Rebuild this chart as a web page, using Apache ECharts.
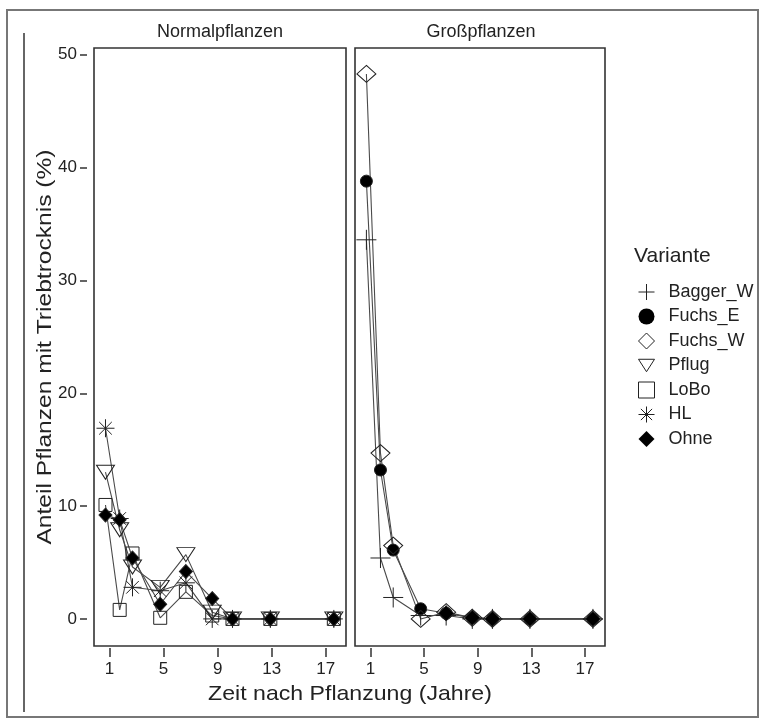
<!DOCTYPE html>
<html>
<head>
<meta charset="utf-8">
<script src="https://cdn.jsdelivr.net/npm/echarts@6/dist/echarts.min.js"></script>
<style>
  html, body { margin: 0; padding: 0; background: #fff; }
  #container { width: 767px; height: 724px; }
</style>
</head>
<body>
<div id="container"></div>
<script>
var myChart = echarts.init(document.getElementById('container'));

// Zeitpunkte (Jahre nach Pflanzung)
var jahre = [0.7, 1.75, 2.7, 4.75, 6.65, 8.6, 10.1, 12.9, 17.6];

// Normalpflanzen
var pflug = [13.0, 7.9, 4.6, 2.8, 5.7, 0.6, 0, 0, 0];
var lobo = [10.1, 0.8, 5.8, 0.1, 2.4, 0.3, 0, 0, 0];
var hl = [16.9, 8.9, 2.8, 2.5, 3.2, 0, 0, 0, 0];
var ohne = [9.2, 8.8, 5.4, 1.3, 4.2, 1.8, 0, 0, 0];

// Großpflanzen
var baggerW = [33.6, 5.4, 1.9, 0.3, 0.3, 0, 0, 0, 0];
var fuchsE = [38.8, 13.2, 6.1, 0.9, 0.5, 0.1, 0, 0, 0];
var fuchsW = [48.3, 14.7, 6.5, 0, 0.6, 0.1, 0, 0, 0];
var ohneGross = [null, null, null, null, 0.5, 0.1, 0, 0, 0];

var xTicks = [1, 5, 9, 13, 17];
var yTicks = [0, 10, 20, 30, 40, 50];

var FONT = '"Liberation Sans", Arial, sans-serif';
var INK = '#222';
var LINE = '#4a4a4a';

var SYM = {
    plus: 'path://M0,10L20,10M10,0L10,20',
    tri: 'path://M0,0L18,0L9,14Z',
    star: 'path://M10,0L10,20M0,10L20,10M3,3L17,17M17,3L3,17'
};

function pairs(ys) {
    var out = [];
    for (var i = 0; i < ys.length; i++) {
        out.push([jahre[i], ys[i]]);
    }
    return out;
}

function mkSeries(name, ys, grid, symbol, size, fill) {
    return {
        name: name,
        type: 'line',
        xAxisIndex: grid,
        yAxisIndex: grid,
        data: pairs(ys),
        symbol: symbol,
        symbolSize: size,
        showAllSymbol: true,
        connectNulls: false,
        animation: false,
        lineStyle: {color: LINE, width: 1.1},
        itemStyle: {color: fill, borderColor: INK, borderWidth: 1},
        emphasis: {disabled: true}
    };
}

var NONE = 'rgba(0,0,0,0)';

var series = [
    mkSeries('Bagger_W', baggerW, 1, SYM.plus, 20, NONE),
    mkSeries('Fuchs_E', fuchsE, 1, 'circle', 12, '#000'),
    mkSeries('Fuchs_W', fuchsW, 1, 'diamond', [19, 17], NONE),
    mkSeries('Ohne', ohneGross, 1, 'diamond', [15, 15], '#000'),
    mkSeries('Pflug', pflug, 0, SYM.tri, [18, 14], NONE),
    mkSeries('LoBo', lobo, 0, 'rect', 13, NONE),
    mkSeries('HL', hl, 0, SYM.star, 18, NONE),
    mkSeries('Ohne', ohne, 0, 'diamond', [13, 14], '#000')
];

var legendData = [
    {name: 'Bagger_W', icon: SYM.plus, itemStyle: {color: NONE, borderColor: INK, borderWidth: 1}},
    {name: 'Fuchs_E', icon: 'circle', itemStyle: {color: '#000', borderColor: '#000', borderWidth: 0}},
    {name: 'Fuchs_W', icon: 'diamond', itemStyle: {color: NONE, borderColor: INK, borderWidth: 1}},
    {name: 'Pflug', icon: SYM.tri, itemStyle: {color: NONE, borderColor: INK, borderWidth: 1}},
    {name: 'LoBo', icon: 'rect', itemStyle: {color: NONE, borderColor: INK, borderWidth: 1}},
    {name: 'HL', icon: SYM.star, itemStyle: {color: NONE, borderColor: INK, borderWidth: 1}},
    {name: 'Ohne', icon: 'diamond', itemStyle: {color: '#000', borderColor: '#000', borderWidth: 0}}
];

function mkX(grid) {
    return {
        type: 'value',
        gridIndex: grid,
        min: -0.15,
        max: 18.5,
        offset: 2,
        splitLine: {show: false},
        axisLine: {show: false, onZero: false},
        axisTick: {show: true, length: 9, customValues: xTicks, lineStyle: {color: '#333', width: 1.5}},
        axisLabel: {customValues: xTicks, margin: 13, fontSize: 17, color: INK, fontFamily: FONT}
    };
}

function mkY(grid) {
    return {
        type: 'value',
        gridIndex: grid,
        min: -2.4,
        max: 50.6,
        offset: 7,
        splitLine: {show: false},
        axisLine: {show: false, onZero: false},
        axisTick: {show: grid === 0, length: 7, customValues: yTicks, lineStyle: {color: '#333', width: 1.5}},
        axisLabel: {show: grid === 0, customValues: yTicks, margin: 10, fontSize: 17, color: INK, fontFamily: FONT}
    };
}

var options = {
    animation: false,
    backgroundColor: '#fff',
    title: {
        text: 'Variante',
        left: 629,
        top: 241,
        textStyle: {fontSize: 21, fontWeight: 'normal', color: INK, fontFamily: FONT}
    },
    legend: {
        orient: 'vertical',
        left: 633,
        top: 278,
        itemWidth: 16,
        itemHeight: 16,
        itemGap: 6.5,
        selectedMode: false,
        data: legendData,
        textStyle: {fontSize: 18, color: INK, fontFamily: FONT, padding: [0, 0, 0, 9]}
    },
    grid: [
        {left: 94, top: 48, width: 252, height: 598, show: true, borderColor: '#333', borderWidth: 1.6, backgroundColor: '#fff'},
        {left: 355, top: 48, width: 250, height: 598, show: true, borderColor: '#333', borderWidth: 1.6, backgroundColor: '#fff'}
    ],
    xAxis: [mkX(0), mkX(1)],
    yAxis: [mkY(0), mkY(1)],
    graphic: [
        {type: 'rect', shape: {x: 7, y: 10, width: 751, height: 707}, style: {fill: 'none', stroke: '#777', lineWidth: 2}, silent: true},
        {type: 'line', shape: {x1: 24, y1: 33, x2: 24, y2: 712}, style: {stroke: '#333', lineWidth: 1.5}, silent: true},
        {type: 'text', x: 220, y: 32, style: {text: 'Normalpflanzen', fill: INK, font: '18px ' + FONT, textAlign: 'center', textVerticalAlign: 'middle'}, silent: true},
        {type: 'text', x: 481, y: 32, style: {text: 'Großpflanzen', fill: INK, font: '18px ' + FONT, textAlign: 'center', textVerticalAlign: 'middle'}, silent: true},
        {type: 'text', x: 350, y: 694, scaleX: 1.1, style: {text: 'Zeit nach Pflanzung (Jahre)', fill: INK, font: '21px ' + FONT, textAlign: 'center', textVerticalAlign: 'middle'}, silent: true},
        {type: 'text', x: 45, y: 347, rotation: Math.PI / 2, scaleX: 1.17, style: {text: 'Anteil Pflanzen mit Triebtrocknis (%)', fill: INK, font: '21px ' + FONT, textAlign: 'center', textVerticalAlign: 'middle'}, silent: true}
    ],
    series: series
};

myChart.setOption(options);
</script>
</body>
</html>
